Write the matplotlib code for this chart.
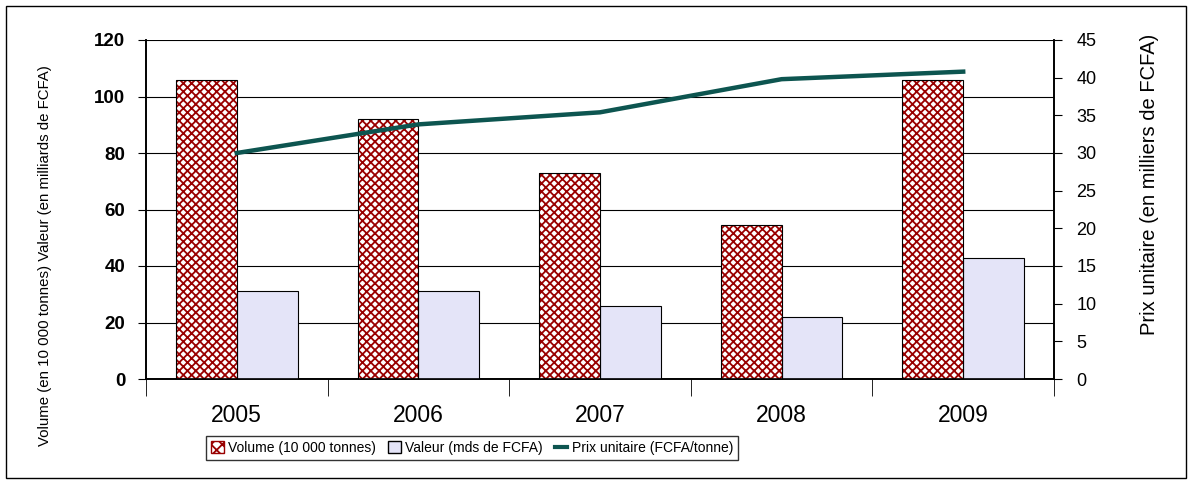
import matplotlib
matplotlib.use("Agg")
import matplotlib.pyplot as plt
from matplotlib.patches import Rectangle, Patch
from matplotlib.lines import Line2D
import numpy as np

plt.rcParams['font.family'] = ['Liberation Sans', 'DejaVu Sans']
plt.rcParams['hatch.linewidth'] = 1.3

years = ['2005', '2006', '2007', '2008', '2009']
volume = [106, 92, 73, 54.5, 106]
valeur = [31, 31, 26, 22, 43]
prix = [30.0, 33.8, 35.4, 39.8, 40.8]

red = '#990000'
lav = '#E4E4F8'
teal = '#0D5550'

fig = plt.figure(figsize=(11.92, 4.83), dpi=100)
ax = fig.add_axes([146 / 1192, 1 - 379 / 483, 908 / 1192, 339 / 483])
ax2 = ax.twinx()

x = np.arange(len(years))
w = 0.335
ax.bar(x - w / 2, volume, w, color='white', edgecolor=red, hatch='xxxx', linewidth=0, zorder=3)
ax.bar(x - w / 2, volume, w, color='none', edgecolor='black', linewidth=0.8, zorder=4)
ax.bar(x + w / 2, valeur, w, color=lav, edgecolor='black', linewidth=0.8, zorder=3)

ax.set_xlim(-0.5, len(years) - 0.5)
ax.set_ylim(0, 120)
ax.set_yticks(range(0, 121, 20))
ax.yaxis.grid(True, color='black', linewidth=0.8, zorder=0)
ax.set_axisbelow(True)
ax.tick_params(axis='y', direction='out', length=6, labelsize=13.5, pad=9)
for t in ax.get_yticklabels():
    t.set_fontweight('bold')
ax.set_xticks(x)
ax.set_xticklabels(years, fontsize=16.5)
ax.tick_params(axis='x', length=0, pad=18)
ax.set_xticks(np.arange(-0.5, len(years)), minor=True)
ax.tick_params(axis='x', which='minor', length=12, direction='out')
fig.text(45 / 1192, 1 - 256 / 483, 'Volume (en 10 000 tonnes) Valeur (en milliards de FCFA)',
         rotation=90, fontsize=10.8, ha='center', va='center')

ax2.plot(x, prix, color=teal, linewidth=3.2, zorder=5)
ax2.set_ylim(0, 45)
ax2.set_yticks(range(0, 46, 5))
ax2.tick_params(axis='y', direction='out', length=6, labelsize=13, pad=10)
ax2.set_ylabel('Prix unitaire (en milliers de FCFA)', fontsize=14.5)
ax2.yaxis.set_label_coords(1.095, 0.575)

for a in (ax, ax2):
    a.spines['top'].set_visible(False)
    for s in a.spines.values():
        s.set_linewidth(1.2)

handles = [
    Patch(facecolor='white', edgecolor=red, hatch='xxx', label='Volume (10 000 tonnes)'),
    Patch(facecolor=lav, edgecolor='black', label='Valeur (mds de FCFA)'),
    Line2D([0], [0], color=teal, linewidth=3, label='Prix unitaire (FCFA/tonne)'),
]
fig.legend(handles=handles, loc='center', bbox_to_anchor=(472 / 1192, 1 - 448 / 483),
           ncol=3, fontsize=10, frameon=True, fancybox=False, edgecolor='black',
           handlelength=0.9, handleheight=0.9, handletextpad=0.3, columnspacing=0.9,
           borderpad=0.35)

fig.patches.append(Rectangle((6 / 1192, 5 / 483), 1180 / 1192, 472 / 483, transform=fig.transFigure,
                             fill=False, edgecolor='black', linewidth=1))

fig.savefig('out.png', dpi=100)
